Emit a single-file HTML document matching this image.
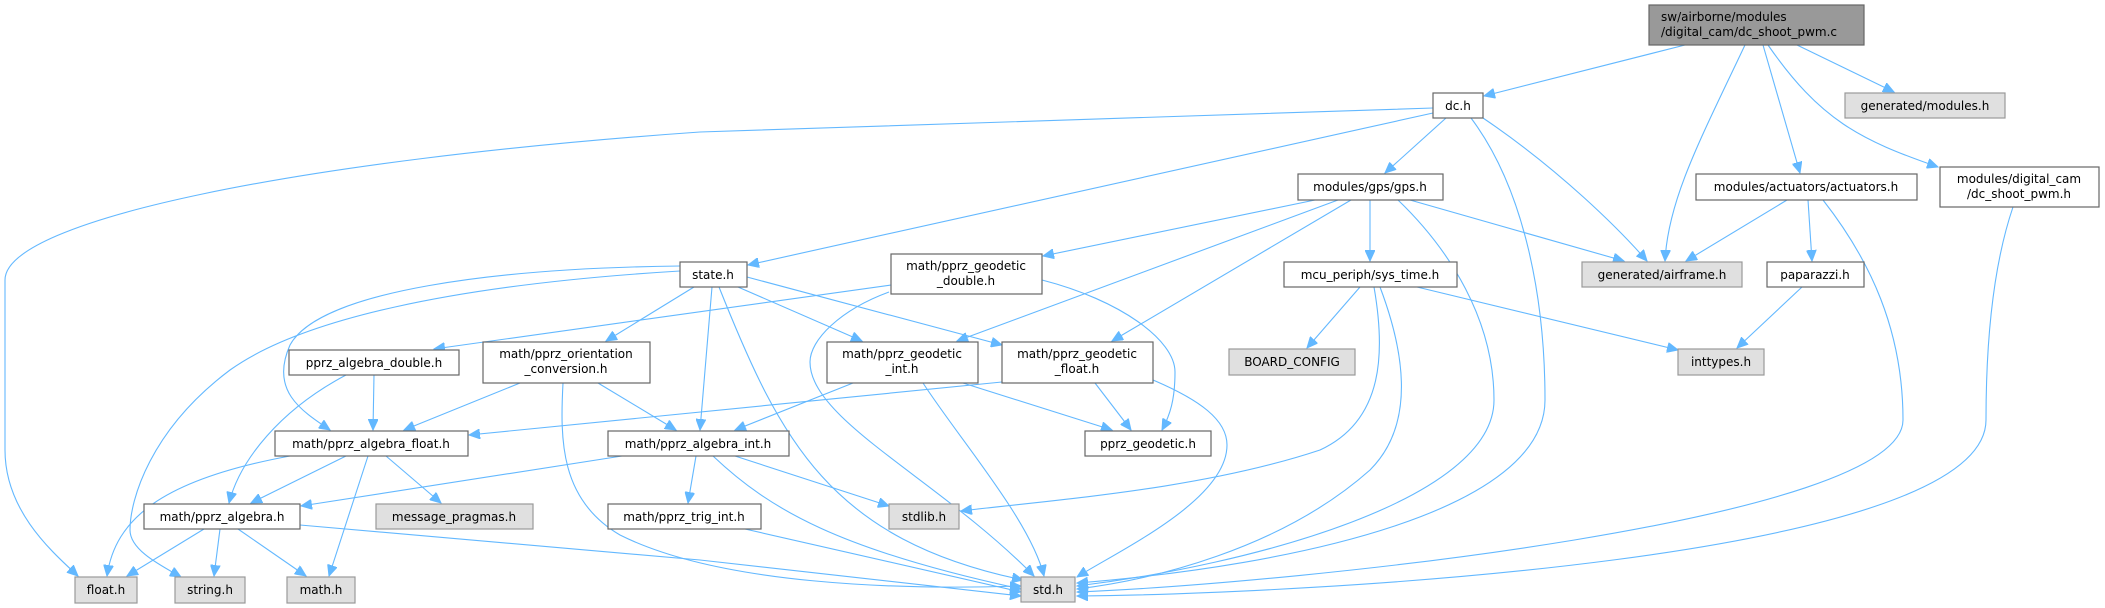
<!DOCTYPE html>
<html><head><meta charset="utf-8"><style>
html,body{margin:0;padding:0;background:#fff;}
svg{display:block;}
text{font-family:"DejaVu Sans","Liberation Sans",sans-serif;font-size:12px;fill:#000;}
.n{fill:#fff;stroke:#666;stroke-width:1.2;}
.g{fill:#e0e0e0;stroke:#999;stroke-width:1.2;}
.r{fill:#999;stroke:#666;stroke-width:1.2;}
path.e{fill:none;stroke:#63b8ff;stroke-width:1.1;marker-end:url(#a);}
</style></head><body>
<svg width="2105" height="608" viewBox="0 0 2105 608" xmlns="http://www.w3.org/2000/svg">
<defs><marker id="a" markerUnits="userSpaceOnUse" markerWidth="12" markerHeight="10" refX="11" refY="5" orient="auto"><path d="M0,0 L11,5 L0,10 Z" fill="#63b8ff" stroke="#63b8ff"/></marker></defs>

<!-- edges -->
<path class="e" d="M1685,45 L1484,96"/>
<path class="e" d="M1745,45 C1700,140 1668,200 1665,261"/>
<path class="e" d="M1763,45 L1800,173"/>
<path class="e" d="M1768,45 C1820,120 1860,140 1938,167"/>
<path class="e" d="M1797,45 L1894,92"/>

<path class="e" d="M1433,108 L700,132 C300,160 5,220 5,280 L5,450 C5,510 50,550 78,576"/>
<path class="e" d="M1433,113 L748,265"/>
<path class="e" d="M1446,118 L1385,173"/>
<path class="e" d="M1471,118 C1525,190 1545,300 1545,400 C1545,510 1300,565 1077,583"/>
<path class="e" d="M1483,118 C1560,170 1620,230 1647,261"/>

<path class="e" d="M1315,200 L1043,256"/>
<path class="e" d="M1338,200 L957,341"/>
<path class="e" d="M1351,200 L1112,341"/>
<path class="e" d="M1370,200 L1370,261"/>
<path class="e" d="M1410,200 L1624,261"/>
<path class="e" d="M1398,200 C1450,250 1494,320 1494,400 C1494,500 1250,565 1077,586"/>

<path class="e" d="M1360,287 L1307,348"/>
<path class="e" d="M1417,287 L1678,350"/>
<path class="e" d="M1374,287 C1385,350 1385,420 1320,450 C1200,490 1050,500 961,511"/>
<path class="e" d="M1380,287 C1400,340 1420,420 1370,470 C1280,550 1150,580 1077,589"/>

<path class="e" d="M1787,200 L1686,261"/>
<path class="e" d="M1808,200 L1812,261"/>
<path class="e" d="M1823,200 C1870,260 1903,330 1903,420 C1903,520 1300,583 1077,592"/>
<path class="e" d="M1802,287 L1737,348"/>
<path class="e" d="M2013,207 C1995,260 1986,330 1986,420 C1986,560 1300,594 1077,596"/>

<path class="e" d="M680,266 C500,268 320,290 290,345 C270,390 300,410 330,430"/>
<path class="e" d="M680,271 C450,285 300,320 230,370 C150,430 130,500 130,530 C130,550 160,565 181,577"/>
<path class="e" d="M694,287 L606,341"/>
<path class="e" d="M712,287 L700,430"/>
<path class="e" d="M719,287 C780,440 830,540 1023,580"/>
<path class="e" d="M738,287 L862,341"/>
<path class="e" d="M747,277 L1002,345"/>

<path class="e" d="M891,285 L434,349"/>
<path class="e" d="M889,292 C840,310 810,340 810,362 C810,420 940,480 1034,576"/>
<path class="e" d="M1042,280 C1120,300 1175,340 1175,372 C1175,400 1170,415 1162,430"/>

<path class="e" d="M520,383 L404,430"/>
<path class="e" d="M598,383 L676,430"/>
<path class="e" d="M563,383 C560,440 560,500 620,535 C720,585 900,590 1021,586"/>

<path class="e" d="M374,375 L373,430"/>
<path class="e" d="M346,375 C280,410 240,460 229,503"/>

<path class="e" d="M853,383 L735,430"/>
<path class="e" d="M963,383 L1112,430"/>
<path class="e" d="M923,383 C960,440 1030,520 1044,576"/>

<path class="e" d="M1002,382 L469,435"/>
<path class="e" d="M1095,383 L1131,430"/>
<path class="e" d="M1153,380 C1200,400 1227,420 1227,445 C1227,500 1120,550 1077,577"/>

<path class="e" d="M290,456 C160,480 115,520 107,576"/>
<path class="e" d="M346,456 L251,503"/>
<path class="e" d="M368,456 L329,576"/>
<path class="e" d="M386,456 L441,503"/>

<path class="e" d="M622,456 L301,506"/>
<path class="e" d="M696,456 L688,503"/>
<path class="e" d="M735,456 L889,506"/>
<path class="e" d="M713,456 C770,510 840,550 1021,589"/>

<path class="e" d="M745,529 L1021,592"/>

<path class="e" d="M204,529 L127,576"/>
<path class="e" d="M220,529 L214,576"/>
<path class="e" d="M238,529 L306,576"/>
<path class="e" d="M300,525 L700,560 L1021,596"/>

<!-- nodes -->
<rect class="r" x="1649" y="5" width="215" height="40"/>
<text x="1661" y="21">sw/airborne/modules</text>
<text x="1661" y="36">/digital_cam/dc_shoot_pwm.c</text>

<rect class="n" x="1433" y="93" width="50" height="25"/><text x="1458" y="110" text-anchor="middle">dc.h</text>
<rect class="g" x="1845" y="93" width="160" height="25"/><text x="1925" y="110" text-anchor="middle">generated/modules.h</text>
<rect class="n" x="1298" y="174" width="145" height="26"/><text x="1370" y="191" text-anchor="middle">modules/gps/gps.h</text>
<rect class="n" x="1696" y="174" width="221" height="26"/><text x="1806" y="191" text-anchor="middle">modules/actuators/actuators.h</text>
<rect class="n" x="1940" y="167" width="159" height="40"/><text x="2019" y="183" text-anchor="middle">modules/digital_cam</text><text x="2019" y="198" text-anchor="middle">/dc_shoot_pwm.h</text>

<rect class="n" x="1284" y="262" width="173" height="25"/><text x="1370" y="279" text-anchor="middle">mcu_periph/sys_time.h</text>
<rect class="g" x="1582" y="262" width="160" height="25"/><text x="1662" y="279" text-anchor="middle">generated/airframe.h</text>
<rect class="n" x="1767" y="262" width="97" height="25"/><text x="1815" y="279" text-anchor="middle">paparazzi.h</text>
<rect class="g" x="1229" y="349" width="126" height="26"/><text x="1292" y="366" text-anchor="middle">BOARD_CONFIG</text>
<rect class="g" x="1678" y="349" width="86" height="26"/><text x="1721" y="366" text-anchor="middle">inttypes.h</text>

<rect class="n" x="680" y="262" width="67" height="25"/><text x="713" y="279" text-anchor="middle">state.h</text>
<rect class="n" x="891" y="254" width="151" height="40"/><text x="966" y="270" text-anchor="middle">math/pprz_geodetic</text><text x="966" y="285" text-anchor="middle">_double.h</text>
<rect class="n" x="289" y="350" width="170" height="25"/><text x="374" y="367" text-anchor="middle">pprz_algebra_double.h</text>
<rect class="n" x="483" y="342" width="167" height="41"/><text x="566" y="358" text-anchor="middle">math/pprz_orientation</text><text x="566" y="373" text-anchor="middle">_conversion.h</text>
<rect class="n" x="827" y="342" width="151" height="41"/><text x="902" y="358" text-anchor="middle">math/pprz_geodetic</text><text x="902" y="373" text-anchor="middle">_int.h</text>
<rect class="n" x="1002" y="342" width="151" height="41"/><text x="1077" y="358" text-anchor="middle">math/pprz_geodetic</text><text x="1077" y="373" text-anchor="middle">_float.h</text>

<rect class="n" x="275" y="431" width="193" height="25"/><text x="371" y="448" text-anchor="middle">math/pprz_algebra_float.h</text>
<rect class="n" x="608" y="431" width="181" height="25"/><text x="698" y="448" text-anchor="middle">math/pprz_algebra_int.h</text>
<rect class="n" x="1085" y="431" width="126" height="25"/><text x="1148" y="448" text-anchor="middle">pprz_geodetic.h</text>

<rect class="n" x="144" y="504" width="156" height="25"/><text x="222" y="521" text-anchor="middle">math/pprz_algebra.h</text>
<rect class="g" x="376" y="504" width="157" height="25"/><text x="454" y="521" text-anchor="middle">message_pragmas.h</text>
<rect class="n" x="608" y="504" width="153" height="25"/><text x="684" y="521" text-anchor="middle">math/pprz_trig_int.h</text>
<rect class="g" x="889" y="504" width="70" height="25"/><text x="924" y="521" text-anchor="middle">stdlib.h</text>

<rect class="g" x="75" y="577" width="62" height="26"/><text x="106" y="594" text-anchor="middle">float.h</text>
<rect class="g" x="175" y="577" width="70" height="26"/><text x="210" y="594" text-anchor="middle">string.h</text>
<rect class="g" x="287" y="577" width="68" height="26"/><text x="321" y="594" text-anchor="middle">math.h</text>
<rect class="g" x="1021" y="577" width="54" height="25"/><text x="1048" y="594" text-anchor="middle">std.h</text>
</svg>
</body></html>
